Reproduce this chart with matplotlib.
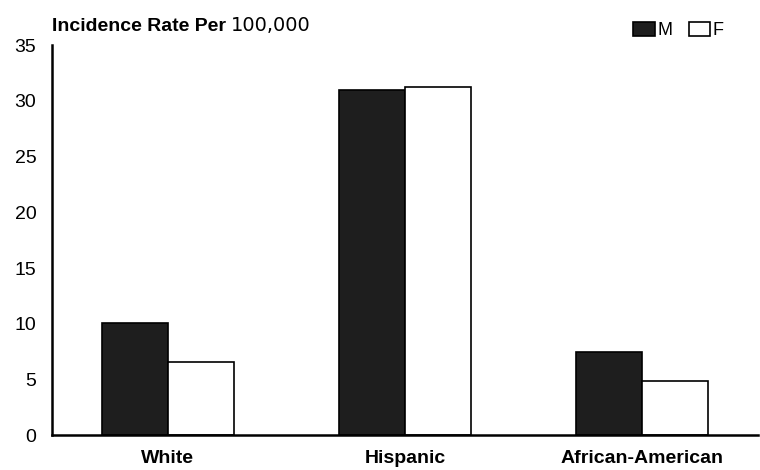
import numpy as np
import matplotlib
matplotlib.use("Agg")
import matplotlib.pyplot as plt

groups = ["White", "Hispanic", "African-American"]
male = [10.1, 31.0, 7.5]
female = [6.6, 31.2, 4.9]
yticks = [0, 5, 10, 15, 20, 25, 30, 35]

plt.rcParams['font.family'] = ['Liberation Sans', 'DejaVu Sans']

fig = plt.figure(figsize=(7.6, 4.7), dpi=100)
ax = fig.add_axes([0.068, 0.074, 0.93, 0.83])

x = np.arange(len(groups))
w = 0.278
bm = ax.bar(x - w/2, male, w, facecolor='#1e1e1e', edgecolor='black', linewidth=1.2, label='M')
bf = ax.bar(x + w/2, female, w, facecolor='white', edgecolor='black', linewidth=1.2, label='F')

ax.set_xlim(-0.49, 2.49)
ax.set_ylim(0, 35)
ax.set_yticks(yticks)
ax.set_xticks(x)
ax.set_xticklabels(groups, fontsize=14, fontweight='bold')
ax.tick_params(axis='y', length=0, labelsize=14, pad=11)
ax.tick_params(axis='x', length=0, pad=11)
for s in ['top', 'right']:
    ax.spines[s].set_visible(False)
for s in ['left', 'bottom']:
    ax.spines[s].set_linewidth(1.8)

t1 = fig.text(0.068, 0.935, "Incidence Rate Per ", fontsize=14, fontweight='bold',
              ha='left', va='baseline')
ax.annotate("100,000", xy=(1, 0), xycoords=t1, va='bottom', ha='left',
            fontsize=14, family='DejaVu Sans')

fig.legend(handles=[bm, bf], loc='upper right', bbox_to_anchor=(0.962, 0.968),
           ncol=2, frameon=False, fontsize=13, handlelength=1.2, handleheight=0.8,
           handletextpad=0.15, columnspacing=0.9, borderaxespad=0)

fig.savefig("out.png", dpi=100)
